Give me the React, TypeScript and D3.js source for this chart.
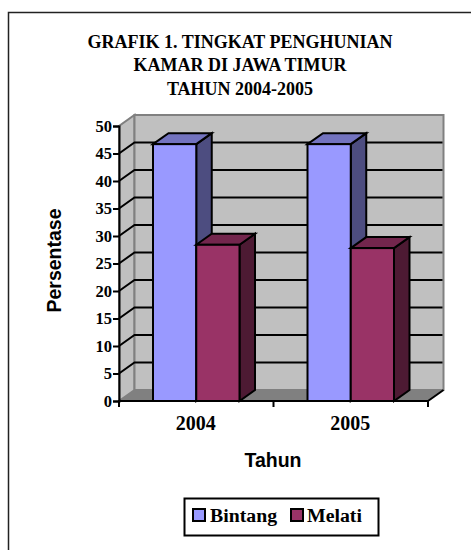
import React, { useEffect, useRef } from 'react';
import * as d3 from 'd3';

const titleLines = ['GRAFIK 1. TINGKAT PENGHUNIAN', 'KAMAR DI JAWA TIMUR', 'TAHUN 2004-2005'];
const years = ['2004', '2005'];
const seriesNames = ['Bintang', 'Melati'];
const bintang = [46.7, 46.7];
const melati = [28.4, 27.8];
const yTicks = [0, 5, 10, 15, 20, 25, 30, 35, 40, 45, 50];

const colors: any = {
  Bintang: { front: '#9999ff', top: '#7373bf', side: '#4d4d80' },
  Melati: { front: '#993366', top: '#73264d', side: '#4d1a33' },
};

const serif = '"Liberation Serif", serif';
const sans = '"Liberation Sans", sans-serif';

export default function App() {
  const ref = useRef<SVGSVGElement>(null);

  useEffect(() => {
    const svg = d3.select(ref.current);
    svg.selectAll('*').remove();

    const left = 119;
    const right = 428;
    const bottom = 401;
    const top = 126;
    // offset of the 3d depth
    const dx = 15.5;
    const dy = 11;

    const y = d3.scaleLinear().domain([0, 50]).range([bottom, top]);
    const x = d3.scaleBand().domain(years).range([left, right]);
    const xInner = d3.scaleBand().domain(seriesNames).range([34, x.bandwidth() - 34]);
    const poly = (pts: number[][]) => pts.map((p) => p.join(',')).join(' ');

    // page frame, only top and left sides
    svg.append('path')
      .attr('d', 'M8.5,550V12.5H471')
      .attr('fill', 'none')
      .attr('stroke', '#222')
      .attr('stroke-width', 1.5);

    // titel
    svg.append('g')
      .selectAll('text')
      .data(titleLines)
      .enter()
      .append('text')
      .attr('x', 240)
      .attr('y', (d, i) => 47.5 + i * 23.7)
      .attr('text-anchor', 'middle')
      .style('font', `bold 18px ${serif}`)
      .text((d) => d);

    // dinding dan lantai
    const backRight = right + dx;
    svg.append('polygon')
      .attr('points', poly([[left, bottom], [left, top], [left + dx, top - dy], [left + dx, bottom - dy]]))
      .attr('fill', '#c0c0c0')
      .attr('stroke', '#808080')
      .attr('stroke-width', 2);
    svg.append('polygon')
      .attr('points', poly([[left + dx, top - dy], [backRight, top - dy], [backRight, bottom - dy], [left + dx, bottom - dy]]))
      .attr('fill', '#c0c0c0')
      .attr('stroke', '#808080')
      .attr('stroke-width', 2);
    svg.append('polygon')
      .attr('points', poly([[left, bottom], [left + dx, bottom - dy], [backRight, bottom - dy], [right, bottom]]))
      .attr('fill', '#808080');

    // garis grid
    const grid = svg.append('g');
    yTicks.filter((t) => t > 0 && t < 50).forEach((t) => {
      grid.append('path')
        .attr('d', `M${left},${y(t)}L${left + dx},${y(t) - dy}H${backRight - 1}`)
        .attr('fill', 'none')
        .attr('stroke', '#000')
        .attr('stroke-width', 2);
    });

    // batang
    const values: any = { Bintang: bintang, Melati: melati };
    years.forEach((year, i) => {
      seriesNames.forEach((name) => {
        const v = values[name][i];
        const x0 = (x(year) as number) + (xInner(name) as number);
        const x1 = x0 + xInner.bandwidth();
        const yv = y(v);
        const g = svg.append('g').attr('stroke', '#000').attr('stroke-width', 2).attr('stroke-linejoin', 'miter');
        g.append('polygon')
          .attr('points', poly([[x1, bottom], [x1, yv], [x1 + dx, yv - dy], [x1 + dx, bottom - dy]]))
          .attr('fill', colors[name].side);
        g.append('polygon')
          .attr('points', poly([[x0, yv], [x0 + dx, yv - dy], [x1 + dx, yv - dy], [x1, yv]]))
          .attr('fill', colors[name].top);
        g.append('rect')
          .attr('x', x0)
          .attr('y', yv)
          .attr('width', x1 - x0)
          .attr('height', bottom - yv)
          .attr('fill', colors[name].front);
      });
    });

    // sumbu y
    const yAxis = svg.append('g')
      .attr('transform', `translate(${left},0)`)
      .call(d3.axisLeft(y).tickValues(yTicks).tickSize(6).tickPadding(1));
    yAxis.selectAll('path,line').attr('stroke', '#000').attr('stroke-width', 2);
    yAxis.selectAll('text')
      .attr('fill', '#000')
      .style('font', `bold 16.5px ${serif}`);

    // sumbu x
    const xEdges = [left, ...years.map((d) => (x(d) as number) + x.bandwidth())];
    const xAxis = svg.append('g').attr('stroke', '#000').attr('stroke-width', 2);
    xAxis.append('line').attr('x1', left - 1).attr('x2', right).attr('y1', bottom).attr('y2', bottom);
    xAxis.selectAll('line.tick')
      .data(xEdges)
      .enter()
      .append('line')
      .attr('class', 'tick')
      .attr('x1', (d) => d)
      .attr('x2', (d) => d)
      .attr('y1', bottom)
      .attr('y2', bottom + 6);
    xAxis.append('line')
      .attr('x1', right)
      .attr('y1', bottom)
      .attr('x2', backRight)
      .attr('y2', bottom - dy);

    svg.append('g')
      .selectAll('text')
      .data(years)
      .enter()
      .append('text')
      .attr('x', (d) => (x(d) as number) + x.bandwidth() / 2 - 0.5)
      .attr('y', 430)
      .attr('text-anchor', 'middle')
      .style('font', `bold 20px ${serif}`)
      .text((d) => d);

    // label sumbu
    svg.append('text')
      .attr('transform', 'translate(60.5,260.5) rotate(-90)')
      .attr('text-anchor', 'middle')
      .style('font', `bold 19.5px ${sans}`)
      .text('Persentase');
    svg.append('text')
      .attr('x', 273)
      .attr('y', 467)
      .attr('text-anchor', 'middle')
      .style('font', `bold 19.5px ${sans}`)
      .text('Tahun');

    // legenda
    svg.append('rect')
      .attr('x', 184.5)
      .attr('y', 498.5)
      .attr('width', 194)
      .attr('height', 37)
      .attr('fill', '#fff')
      .attr('stroke', '#000')
      .attr('stroke-width', 2);
    const legendX = [193, 291];
    const legend = svg.append('g')
      .selectAll('g')
      .data(seriesNames)
      .enter()
      .append('g')
      .attr('transform', (d, i) => `translate(${legendX[i]},509)`);
    legend.append('rect')
      .attr('width', 12)
      .attr('height', 12)
      .attr('fill', (d) => colors[d].front)
      .attr('stroke', '#000')
      .attr('stroke-width', 2);
    legend.append('text')
      .attr('x', (d, i) => (i === 0 ? 17 : 16))
      .attr('y', 13)
      .style('font', `bold 19.8px ${serif}`)
      .text((d) => d);
  }, []);

  return (
    <svg
      ref={ref}
      width={471}
      height={550}
      style={{ position: 'absolute', left: 0, top: 0, background: '#fff' }}
    />
  );
}
